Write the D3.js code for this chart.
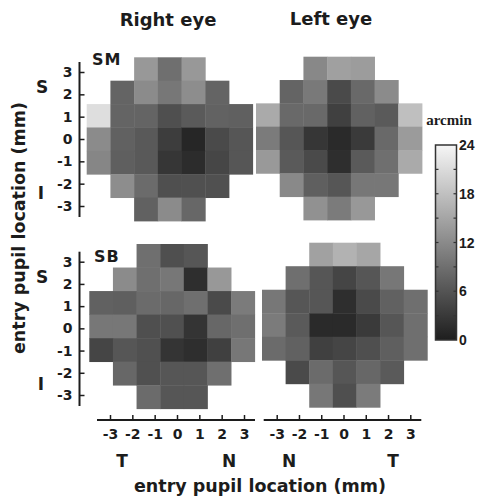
<!DOCTYPE html>
<html><head><meta charset="utf-8">
<script src="https://cdn.jsdelivr.net/npm/d3@7"></script>
<style>
body{margin:0;background:#fff;}
svg{display:block;font-family:"DejaVu Sans",sans-serif;font-weight:bold;}
</style></head>
<body><svg id="c" width="480" height="499"></svg>
<script>
// Data: rows from y=+3 (top) to y=-3 (bottom), cols x=-3..3; null = outside pupil
const positions = [-3,-2,-1,0,1,2,3];
const tickLabels = ["-3","-2","-1","0","1","2","3"];
const cbTicks = [0,6,12,18,24];
const cbMinor = [3,9,15,21];
const SM_right = [
 [null,null,13.5,9.0,13.5,null,null],
 [null,7.8,12.1,9.9,12.3,7.8,null],
 [21.3,7.8,7.8,5.4,6.7,7.6,7.3],
 [12.1,7.4,6.5,3.4,0.9,4.9,6.2],
 [11.5,7.2,6.5,2.7,1.6,4.4,6.2],
 [null,12.3,8.5,5.4,5.6,5.6,null],
 [null,null,7.4,12.1,8.1,null,null]
];
const SM_left = [
 [null,null,11.8,14.4,14.0,null,null],
 [null,7.8,10.1,4.9,8.3,12.1,null],
 [15.5,8.3,8.3,3.8,7.4,6.7,17.9],
 [10.3,6.2,2.7,1.3,3.1,8.3,13.9],
 [13.7,6.7,4.9,1.8,6.7,9.0,15.5],
 [null,11.9,7.2,6.2,9.9,9.9,null],
 [null,null,12.8,10.3,13.5,null,null]
];
const SB_right = [
 [null,null,9.0,5.4,6.2,null,null],
 [null,12.1,9.0,9.9,1.8,13.5,null],
 [7.4,7.2,8.5,8.1,9.0,4.9,10.3],
 [9.9,9.9,5.4,5.6,2.4,8.1,9.0],
 [4.3,6.2,5.6,2.4,1.8,3.8,9.9],
 [null,8.1,5.6,6.2,6.2,9.0,null],
 [null,null,8.5,6.2,6.2,null,null]
];
const SB_left = [
 [null,null,14.6,16.4,15.1,null,null],
 [null,9.0,6.2,4.3,6.2,9.9,null],
 [9.9,6.2,6.2,1.8,4.9,7.4,9.0],
 [10.3,6.7,1.3,1.3,3.1,6.2,9.0],
 [8.5,7.4,3.8,4.3,5.4,7.2,9.0],
 [null,4.9,8.5,6.2,8.1,6.7,null],
 [null,null,9.9,5.4,10.3,null,null]
];

const svg = d3.select("#c");
const ink = "#1c1c1c";
const FONT = "'DejaVu Sans',sans-serif";
const color = d3.scaleLinear().domain([0,24]).range(["#1e1e1e","#f6f6f6"]).clamp(true);

const panels = [
 {data:SM_right, x:[86.7,252.7], y:[57.3,221]},
 {data:SM_left,  x:[256,422],    y:[56.7,220]},
 {data:SB_right, x:[89.3,254.7], y:[244,408.7]},
 {data:SB_left,  x:[262,427.3],  y:[242.7,407.3]}
];
panels.forEach(p=>{
  const xs = d3.scaleBand().domain(positions).range(p.x);
  const ys = d3.scaleBand().domain(positions.slice().reverse()).range(p.y);
  const cells = [];
  p.data.forEach((row,ri)=>row.forEach((v,ci)=>{
    if(v!==null) cells.push({x:positions[ci], y:positions[6-ri], v});
  }));
  svg.append("g").selectAll("rect").data(cells).join("rect")
    .attr("x",d=>xs(d.x)).attr("y",d=>ys(d.y))
    .attr("width",xs.bandwidth()+0.4).attr("height",ys.bandwidth()+0.4)
    .attr("fill",d=>color(d.v));
});

// Y axes
[[72,206],[261.7,395]].forEach(r=>{
  const s = d3.scaleLinear().domain([3,-3]).range(r);
  const g = svg.append("g").attr("transform","translate(79.5,0)")
    .call(d3.axisLeft(s).tickValues(positions).tickFormat(d=>d).tickSize(-5).tickSizeOuter(0).tickPadding(7));
  g.select(".domain").remove();
  g.append("line").attr("x1",0).attr("x2",0).attr("y1",r[0]-10).attr("y2",r[1]+11).attr("stroke",ink).attr("stroke-width",2);
  g.selectAll(".tick line").attr("stroke",ink).attr("stroke-width",1.5);
  g.selectAll(".tick text").attr("fill",ink).style("font-size","14px").style("font-weight","bold").style("font-family",FONT);
});

// X axes
[[110,244],[276.7,410.3]].forEach(r=>{
  const s = d3.scaleLinear().domain([-3,3]).range(r);
  const g = svg.append("g").attr("transform","translate(0,420)")
    .call(d3.axisBottom(s).tickValues(positions).tickFormat((d,i)=>tickLabels[i]).tickSize(-5).tickSizeOuter(0).tickPadding(9));
  g.select(".domain").remove();
  g.append("line").attr("x1",r[0]-13).attr("x2",r[1]+11).attr("y1",0).attr("y2",0).attr("stroke",ink).attr("stroke-width",2);
  g.selectAll(".tick line").attr("stroke",ink).attr("stroke-width",1.5);
  g.selectAll(".tick text").attr("fill",ink).style("font-size","14px").style("font-weight","bold").style("font-family",FONT);
});

function txt(x,y,t,size,anchor,extra){
  const e = svg.append("text").attr("x",x).attr("y",y).text(t)
    .attr("fill",ink).style("font-size",size+"px").attr("text-anchor",anchor||"middle");
  if(extra) extra(e);
  return e;
}
txt(168,26,"Right eye",18);
txt(331,25,"Left eye",18);
txt(92,65,"SM",16,"start",e=>e.style("letter-spacing","1px"));
txt(94,262,"SB",16,"start",e=>e.style("letter-spacing","1px"));
txt(42,93,"S",17);
txt(41,199,"I",17);
txt(42,283,"S",17);
txt(41,390,"I",17);
txt(122,467,"T",17);
txt(229,467,"N",17);
txt(289,467,"N",17);
txt(393,467,"T",17);
txt(260,492,"entry pupil location (mm)",17.5);
txt(0,0,"entry pupil location (mm)",17.5,"middle",e=>e.attr("transform","translate(25,228) rotate(-90)"));

// Colorbar
const defs = svg.append("defs");
const grad = defs.append("linearGradient").attr("id","cb").attr("x1",0).attr("x2",0).attr("y1",1).attr("y2",0);
d3.range(0,25,4).forEach(v=>grad.append("stop").attr("offset",v/24).attr("stop-color",color(v)));
const cbS = d3.scaleLinear().domain([0,24]).range([340,145]);
const cbX0 = 435.5, cbX1 = 456.5;
svg.append("rect").attr("x",cbX0).attr("y",cbS(24)).attr("width",cbX1-cbX0).attr("height",cbS(0)-cbS(24))
  .attr("fill","url(#cb)").attr("stroke","#333").attr("stroke-width",1.5);
const cbg = svg.append("g");
const cbAll = cbMinor.concat([6,12,18]);
cbg.selectAll("line.l").data(cbAll).join("line").attr("class","l")
  .attr("x1",cbX0).attr("x2",cbX0+3).attr("y1",d=>cbS(d)).attr("y2",d=>cbS(d)).attr("stroke","#333").attr("stroke-width",1.2);
cbg.selectAll("line.r").data(cbAll).join("line").attr("class","r")
  .attr("x1",cbX1-3).attr("x2",cbX1).attr("y1",d=>cbS(d)).attr("y2",d=>cbS(d)).attr("stroke","#333").attr("stroke-width",1.2);
cbg.selectAll("text").data(cbTicks).join("text")
  .attr("x",459).attr("y",d=>cbS(d)+5).text(d=>d)
  .attr("fill",ink).style("font-size","14px").style("font-family","'Liberation Sans',Arial,sans-serif");
txt(449,125,"arcmin",15,"middle",e=>e.style("font-family","'Liberation Serif','Times New Roman',serif"));
</script></body></html>
